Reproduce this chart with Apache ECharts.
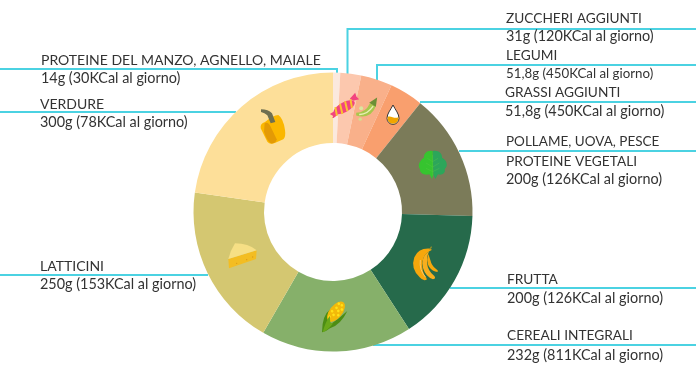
<!DOCTYPE html>
<html><head><meta charset="utf-8">
<style>html,body{margin:0;padding:0;background:#fff}#c{width:696px;height:392px}</style>
<script src="https://cdn.jsdelivr.net/npm/echarts@6/dist/echarts.min.js"></script>
</head><body><div id="c"></div>
<script>
// ---- data ----
const categories = ['Proteine del manzo','Zuccheri aggiunti','Legumi','Grassi aggiunti','Pollame','Frutta','Cereali integrali','Latticini','Verdure'];
const sliceShares = [3, 8.7, 13.1, 13.9, 52.9, 55.4, 63, 68, 82];
const labelTitles = [
  ['PROTEINE DEL MANZO, AGNELLO, MAIALE'],['ZUCCHERI AGGIUNTI'],['LEGUMI'],['GRASSI AGGIUNTI'],
  ['POLLAME, UOVA, PESCE','PROTEINE VEGETALI'],['FRUTTA'],['CEREALI INTEGRALI'],['LATTICINI'],['VERDURE']];
const labelAmounts = ['14g (30KCal al giorno)','31g (120KCal al giorno)','51,8g (450KCal al giorno)','51,8g (450KCal al giorno)',
  '200g (126KCal al giorno)','200g (126KCal al giorno)','232g (811KCal al giorno)','250g (153KCal al giorno)','300g (78KCal al giorno)'];

// ---- presentation ----
const sliceColors = ['#fbe9de','#fcc8ae','#f9b08a','#f99f6e','#7b7b59','#266a4b','#86b06a','#d4c771','#fddf99'];
const cx = 333, cy = 212, rIn = 69, rOut = 139.5;
const leader = '#4bd2e2';
const layout = [
  {x:41, ys:[60,78], fs:[14,14.4], pts:[[0,69],[337,69],[337,73]]},
  {x:506,ys:[18.5,36.5], fs:[13.7,14.4], pts:[[696,29],[347.5,29],[347.5,74]]},
  {x:506,ys:[56,73.5], fs:[13.7,13.3], pts:[[696,65],[377,65],[377,80]]},
  {x:505,ys:[93,111], fs:[13.7,14.4], pts:[[696,102],[420,102]]},
  {x:506,ys:[141.5,161.5,179.5], fs:[13.5,13.7,14.4], pts:[[696,151],[459,151]]},
  {x:507,ys:[280,298], fs:[13.7,14.4], pts:[[696,288],[450,288]]},
  {x:507,ys:[336,355], fs:[13.7,14.4], pts:[[696,345],[373,345]]},
  {x:40, ys:[266,284], fs:[14,14.4], pts:[[0,275],[208,275]]},
  {x:40, ys:[104.5,122.5], fs:[14,14.4], pts:[[0,112],[236,112]]}
];
const svg = (vb, w, h, body) => ({w, h,
  url:'data:image/svg+xml;charset=utf-8,'+encodeURIComponent(`<svg xmlns="http://www.w3.org/2000/svg" width="${w*2}" height="${h*2}" viewBox="${vb}">${body}</svg>`)});
const icons = [
  {c:[344.5,104], ...svg('52 10 104 84',34.67,28,
    `<path d="M76 72L60 82L70 88L66 98L84 84Z M130 42L148 38L140 30L136 18L120 36Z" fill="#f2447f"/>
     <g transform="rotate(-28 103 62)"><ellipse cx="103" cy="62" rx="35" ry="15" fill="#f2447f"/>
     <path d="M80 49L72 74M97 47L89 77M114 47L106 77M131 50L123 74" stroke="#f9c22e" stroke-width="6"/></g>`)},
  {c:[366.5,109.5], ...svg('132 30 72 84',24,28,
    `<circle cx="152" cy="68" r="6" fill="#dbe69e"/><circle cx="149" cy="101" r="5" fill="#d5e08c"/>
     <path d="M137 82Q165 82 178 54L197 60Q182 102 137 90Z" fill="#a9c64c"/>
     <path d="M146 87Q170 88 188 62" stroke="#e8f0b5" stroke-width="4" fill="none"/>
     <path d="M176 52L200 36L196 64Z" fill="#6c8f35"/>`)},
  {c:[393,115], ...svg('222 54 52 72',17.33,24,
    `<path d="M248 60C240 76 230 86 230 100A18 18 0 0 0 266 100C266 86 256 76 248 60Z" fill="#fff" stroke="#333" stroke-width="3"/>
     <path d="M232 96C240 90 255 104 264 96C266 108 258 116 248 116C238 116 230 108 232 96Z" fill="#f1a500"/>`)},
  {c:[430,165], ...svg('0 0 120 120',40,40,
    `<path d="M68 18C85 14 98 26 96 38C110 44 116 62 104 72C108 84 96 92 84 88L76 102L70 90L68 18Z" fill="#2ca65a"/>
     <path d="M68 18C52 14 40 26 42 38C28 46 22 62 30 72C28 84 42 92 58 88L66 102L70 90Z" fill="#36c42f"/>
     <path d="M68 30V92M68 50L52 40M68 50L84 40M68 66L48 54M68 66L88 54M68 80L48 70M68 80L88 70" stroke="#5fc94a" stroke-width="1" fill="none"/>`)},
  {c:[430,265], ...svg('0 0 150 150',50,50,
    `<path d="M78 26Q40 22 28 52Q16 86 44 112Q56 126 66 118Q48 92 52 66Q56 40 80 30Z" fill="#f6a70c"/>
     <path d="M72 34Q46 52 54 84Q62 110 84 118Q94 116 88 108Q68 92 66 68Q64 50 72 34Z" fill="#f9ae1e"/>
     <path d="M70 42Q62 62 72 80Q82 94 98 96Q100 90 94 88Q80 78 76 60Z" fill="#f6a70c"/>
     <path d="M46 60Q42 90 62 112" stroke="#fcc767" stroke-width="3" fill="none"/>
     <path d="M74 28L80 20" stroke="#8f8b2c" stroke-width="4"/>`)},
  {c:[335,317.5], ...svg('0 0 150 135',50,45,
    `<path d="M36 112Q36 60 62 42Q50 80 62 88Q90 68 112 48Q92 90 60 100Q48 110 36 112Z" fill="#4c8d14"/>
     <g transform="rotate(38 78 50)"><ellipse cx="78" cy="50" rx="19" ry="36" fill="#f2b90a"/>
     <g fill="#ffe11a"><circle cx="70" cy="26" r="4"/><circle cx="80" cy="24" r="4"/><circle cx="88" cy="34" r="4"/><circle cx="72" cy="40" r="4"/><circle cx="82" cy="44" r="4"/><circle cx="90" cy="54" r="4"/><circle cx="68" cy="56" r="4"/><circle cx="78" cy="62" r="4"/><circle cx="72" cy="74" r="4"/></g></g>
     <path d="M38 112Q46 80 60 62Q58 90 70 84Q56 104 38 112Z" fill="#6aa81a"/>`)},
  {c:[242.5,255], ...svg('0 0 135 120',45,40,
    `<path d="M25 72L27 100L108 72L110 46Z" fill="#f3bd22"/>
     <path d="M25 72Q32 45 45 25Q85 25 110 46Z" fill="#f6df85"/>
     <g fill="#d99a18"><circle cx="50" cy="85" r="2"/><circle cx="80" cy="74" r="2"/><circle cx="98" cy="66" r="2"/></g>`)},
  {c:[275,125], ...svg('0 0 150 150',50,50,
    `<path d="M45 66Q30 70 32 85L52 125Q60 136 76 128L100 118Q108 110 105 90Q100 55 85 45Q70 45 45 66Z" fill="#fbb700"/>
     <path d="M44 70Q54 64 62 80L80 118Q78 132 62 130Q50 120 42 95Z" fill="#e39a05"/>
     <path d="M33 28Q55 28 66 40L76 66L62 70L52 46Q44 38 33 36Z" fill="#6f6f50"/>`)}
];

const pieData = categories.map((name,i)=>({name, value:sliceShares[i], itemStyle:{color:sliceColors[i]}}));

const fontFamily = 'Lato, "Open Sans", sans-serif';
const graphics = [];
layout.forEach((l,i)=>{
  graphics.push({type:'polyline', silent:true, z:1, shape:{points:l.pts}, style:{stroke:leader, lineWidth:2, fill:'none'}});
  const nt = labelTitles[i].length;
  [...labelTitles[i], labelAmounts[i]].forEach((t,k)=>{
    const size = k<nt ? l.fs[k] : l.fs[l.fs.length-1];
    graphics.push({type:'text', silent:true, z:5, x:l.x, y:l.ys[k],
      style:{text:t, fill:'#333', font:size+'px '+fontFamily, verticalAlign:'middle', align:'left'}});
  });
});
icons.forEach(ic=>graphics.push({type:'image', silent:true, z:20, x:ic.c[0]-ic.w/2, y:ic.c[1]-ic.h/2,
  style:{image:ic.url, width:ic.w, height:ic.h}}));

const chart = echarts.init(document.getElementById('c'), null, {renderer:'canvas'});
chart.setOption({
  animation:false, backgroundColor:'#fff',
  graphic:graphics,
  series:[{type:'pie', silent:true, z:3, center:[cx,cy], radius:[rIn,rOut], startAngle:90, clockwise:true,
    avoidLabelOverlap:false, label:{show:false}, labelLine:{show:false}, emphasis:{disabled:true}, data:pieData}]
});
</script></body></html>
